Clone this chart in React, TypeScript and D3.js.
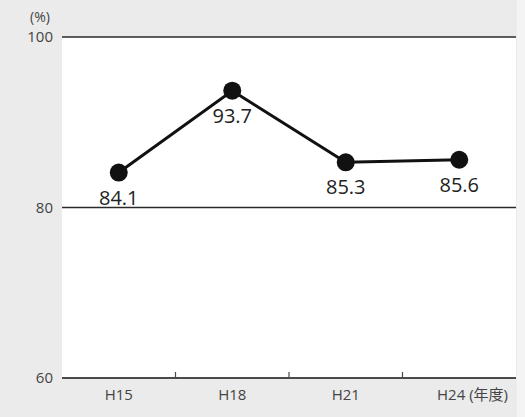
import React from "react";
import * as d3 from "d3";

// Survey years (Heisei era) and their rates in percent
const categories: string[] = ["H15", "H18", "H21", "H24"];
const rates: number[] = [84.1, 93.7, 85.3, 85.6];
const yTicks: number[] = [60, 80, 100];
const unitLabel = "(%)";
const yearSuffix = " (年度)";

const W = 525;
const H = 417;
const margin = { left: 62, right: 9, top: 37, bottom: 39 };
const FONT = "'Open Sans', 'Noto Sans', 'Noto Sans CJK JP', sans-serif";

export default function App() {
  const x = d3
    .scaleBand<string>()
    .domain(categories)
    .range([margin.left, W - margin.right])
    .padding(0);
  const y = d3
    .scaleLinear()
    .domain([60, 100])
    .range([H - margin.bottom, margin.top]);

  const cx = (c: string) => (x(c) ?? 0) + x.bandwidth() / 2;
  const line = d3
    .line<number>()
    .x((_, i) => cx(categories[i]))
    .y((d) => y(d));

  const plotRight = W - margin.right;
  const bottom = y(60);

  return (
    <svg
      width={W}
      height={H}
      style={{ position: "fixed", left: 0, top: 0, display: "block" }}
      fontFamily={FONT}
    >
      <rect x={0} y={0} width={W} height={H} fill="#f4f4f4" />
      <rect x={0} y={0} width={plotRight + 1} height={H} fill="#ebebeb" />
      <rect
        x={margin.left}
        y={y(100)}
        width={plotRight - margin.left}
        height={bottom - y(100)}
        fill="#ffffff"
      />

      {/* horizontal gridlines */}
      {yTicks
        .filter((t) => t !== 60)
        .map((t) => (
          <line
            key={t}
            x1={margin.left}
            x2={plotRight}
            y1={y(t)}
            y2={y(t)}
            stroke="#2a2a2a"
            strokeWidth={1.3}
          />
        ))}

      {/* y tick labels */}
      {yTicks.map((t) => (
        <text
          key={t}
          x={margin.left - 9}
          y={y(t)}
          dy="0.36em"
          textAnchor="end"
          fontSize={15}
          fill="#444"
        >
          {t}
        </text>
      ))}
      <text x={40} y={22} textAnchor="middle" fontSize={14} fill="#444">
        {unitLabel}
      </text>

      {/* x axis */}
      <line
        x1={margin.left}
        x2={plotRight}
        y1={bottom}
        y2={bottom}
        stroke="#4a4a4a"
        strokeWidth={2}
      />
      {categories.slice(1).map((c) => (
        <line
          key={c}
          x1={x(c)}
          x2={x(c)}
          y1={bottom}
          y2={bottom - 6}
          stroke="#4a4a4a"
          strokeWidth={1.2}
        />
      ))}
      {categories.map((c, i) => {
        const last = i === categories.length - 1;
        return (
          <text
            key={c}
            x={last ? plotRight - 8 : cx(c)}
            y={bottom + 22}
            textAnchor={last ? "end" : "middle"}
            fontSize={15}
            fill="#444"
          >
            {last ? c + yearSuffix : c}
          </text>
        );
      })}

      {/* series */}
      <path
        d={line(rates) ?? ""}
        fill="none"
        stroke="#111"
        strokeWidth={3}
        strokeLinejoin="miter"
      />
      {rates.map((v, i) => (
        <circle key={i} cx={cx(categories[i])} cy={y(v)} r={9} fill="#111" />
      ))}
      {rates.map((v, i) => (
        <text
          key={"l" + i}
          x={cx(categories[i])}
          y={y(v) + 32}
          textAnchor="middle"
          fontSize={20}
          fill="#222"
        >
          {v.toFixed(1)}
        </text>
      ))}
    </svg>
  );
}
